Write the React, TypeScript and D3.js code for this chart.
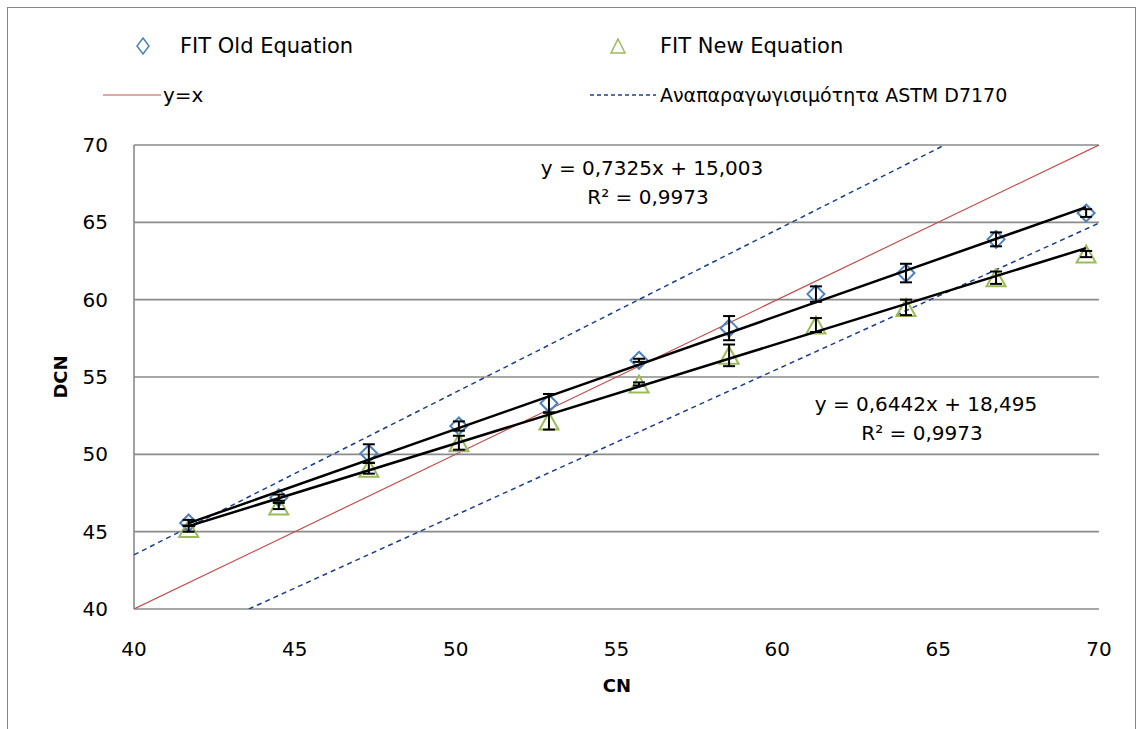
import React from "react";
import * as d3 from "d3";

const cn = [41.7, 44.5, 47.3, 50.1, 52.9, 55.7, 58.5, 61.2, 64.0, 66.8, 69.6];
const dcnOld = [45.56, 47.2, 50.05, 51.83, 53.3, 56.08, 58.16, 60.36, 61.72, 63.9, 65.6];
const errOld = [0.2, 0.2, 0.6, 0.3, 0.6, 0.1, 0.78, 0.5, 0.6, 0.45, 0.25];
const dcnNew = [45.2, 46.66, 49.1, 50.75, 52.15, 54.55, 56.4, 58.36, 59.5, 61.42, 62.95];
const errNew = [0.2, 0.2, 0.35, 0.45, 0.55, 0.1, 0.7, 0.45, 0.5, 0.4, 0.2];

const fitOld = { slope: 0.7325, intercept: 15.003, label: "y = 0,7325x + 15,003", r2: "R² = 0,9973" };
const fitNew = { slope: 0.6442, intercept: 18.495, label: "y = 0,6442x + 18,495", r2: "R² = 0,9973" };

const identityLine: [number, number][] = [[40, 40], [70, 70]];
const astmUpper: [number, number][] = [[40, 43.5], [65.2, 70]];
const astmLower: [number, number][] = [[43.57, 40], [70, 64.95]];

const xTicks = [40, 45, 50, 55, 60, 65, 70];
const yTicks = [40, 45, 50, 55, 60, 65, 70];

const legendLabels = ["FIT Old Equation", "FIT New Equation", "y=x", "Αναπαραγωγισιμότητα ASTM D7170"];

const FONT = "'DejaVu Sans', sans-serif";
const BLUE = "#4F81BD";
const GREEN = "#9BBB59";
const RED = "#C0504D";
const NAVY = "#1F3F8A";
const GRID = "#8A8A8A";

export default function App() {
  const x = d3.scaleLinear().domain([40, 70]).range([134, 1099]);
  const y = d3.scaleLinear().domain([40, 70]).range([609, 145]);
  const line = d3.line<[number, number]>().x((d) => x(d[0])).y((d) => y(d[1]));

  const xMin = d3.min(cn)!;
  const xMax = d3.max(cn)!;
  const trend = (f: { slope: number; intercept: number }): [number, number][] => [
    [xMin, f.slope * xMin + f.intercept],
    [xMax, f.slope * xMax + f.intercept],
  ];

  const diamond = (cx: number, cy: number, r = 8.5) =>
    `M${cx},${cy - r}L${cx + r},${cy}L${cx},${cy + r}L${cx - r},${cy}Z`;
  const triangle = (cx: number, cy: number, w = 9.5, h = 8.5) =>
    `M${cx},${cy - h}L${cx + w},${cy + h}L${cx - w},${cy + h}Z`;

  const errBar = (cx: number, v: number, e: number, key: string) => {
    const y1 = y(v + e), y2 = y(v - e);
    return (
      <g key={key} stroke="#000" strokeWidth={2}>
        <line x1={cx} x2={cx} y1={y1} y2={y2} />
        <line x1={cx - 6} x2={cx + 6} y1={y1} y2={y1} />
        <line x1={cx - 6} x2={cx + 6} y1={y2} y2={y2} />
      </g>
    );
  };

  return (
    <svg width={1137} height={729} style={{ position: "absolute", left: 0, top: 0 }} fontFamily={FONT}>
      <rect x={0} y={0} width={1137} height={729} fill="#fff" />
      <rect x={7.5} y={7.5} width={1128} height={740} fill="none" stroke="#868686" strokeWidth={1} />

      {/* legend */}
      <path d={`M143,38L149,46L143,54L137,46Z`} fill="none" stroke={BLUE} strokeWidth={1.5} />
      <text x={180} y={53} fontSize={21} fill="#000">{legendLabels[0]}</text>
      <path d={triangle(618, 46, 7, 7)} fill="none" stroke={GREEN} strokeWidth={1.5} />
      <text x={660} y={53} fontSize={21} fill="#000">{legendLabels[1]}</text>
      <line x1={103} x2={161} y1={95} y2={95} stroke={RED} strokeWidth={1.2} />
      <text x={163} y={102} fontSize={20} fill="#000">{legendLabels[2]}</text>
      <line x1={590} x2={656} y1={95} y2={95} stroke={NAVY} strokeWidth={1.5} strokeDasharray="4,3" />
      <text x={660} y={102} fontSize={19} fill="#000">{legendLabels[3]}</text>

      {/* gridlines */}
      {yTicks.map((t) => (
        <line key={"g" + t} x1={x(40)} x2={x(70)} y1={y(t)} y2={y(t)} stroke={GRID} strokeWidth={1.6} />
      ))}
      <line x1={x(40)} x2={x(40)} y1={y(70)} y2={y(40)} stroke={GRID} strokeWidth={1.6} />

      {/* tick labels */}
      {yTicks.map((t) => (
        <text key={"yl" + t} x={108} y={y(t) + 7} fontSize={20} textAnchor="end" fill="#000">{t}</text>
      ))}
      {xTicks.map((t) => (
        <text key={"xl" + t} x={x(t)} y={656} fontSize={20} textAnchor="middle" fill="#000">{t}</text>
      ))}
      <text x={617} y={692} fontSize={18} fontWeight="bold" textAnchor="middle" fill="#000">CN</text>
      <text transform={`translate(67,${y(55)}) rotate(-90)`} fontSize={18} fontWeight="bold" textAnchor="middle" fill="#000">DCN</text>

      <clipPath id="plotclip">
        <rect x={x(40)} y={y(70)} width={x(70) - x(40)} height={y(40) - y(70)} />
      </clipPath>

      <g clipPath="url(#plotclip)">
        <path d={line(identityLine)!} fill="none" stroke={RED} strokeWidth={1.2} />
        <path d={line(astmUpper)!} fill="none" stroke={NAVY} strokeWidth={1.5} strokeDasharray="5,4" />
        <path d={line(astmLower)!} fill="none" stroke={NAVY} strokeWidth={1.5} strokeDasharray="5,4" />
      </g>

      {/* markers */}
      {cn.map((c, i) => (
        <path key={"d" + i} d={diamond(x(c), y(dcnOld[i]))} fill="none" stroke={BLUE} strokeWidth={2} />
      ))}
      {cn.map((c, i) => (
        <path key={"t" + i} d={triangle(x(c), y(dcnNew[i]))} fill="none" stroke={GREEN} strokeWidth={2} />
      ))}

      {/* error bars */}
      {cn.map((c, i) => errBar(x(c), dcnOld[i], errOld[i], "eo" + i))}
      {cn.map((c, i) => errBar(x(c), dcnNew[i], errNew[i], "en" + i))}

      {/* trendlines */}
      <path d={line(trend(fitOld))!} fill="none" stroke="#000" strokeWidth={2.5} />
      <path d={line(trend(fitNew))!} fill="none" stroke="#000" strokeWidth={2.5} />

      {/* equation labels */}
      <text x={652} y={175} fontSize={20} textAnchor="middle" fill="#000">{fitOld.label}</text>
      <text x={648} y={204} fontSize={20} textAnchor="middle" fill="#000">{fitOld.r2}</text>
      <text x={926} y={411} fontSize={20} textAnchor="middle" fill="#000">{fitNew.label}</text>
      <text x={922} y={440} fontSize={20} textAnchor="middle" fill="#000">{fitNew.r2}</text>
    </svg>
  );
}
